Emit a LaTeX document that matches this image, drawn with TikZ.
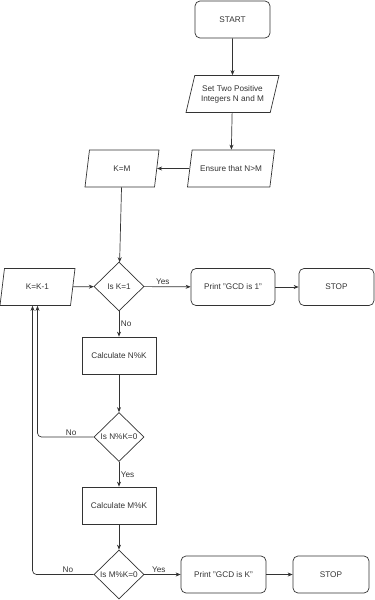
\documentclass[tikz,border=0pt]{standalone}
\usepackage{fontspec}
\setmainfont{Liberation Sans}
\usetikzlibrary{shapes.geometric,arrows.meta}

\begin{document}
\begin{tikzpicture}[x=1pt,y=-1pt,
  every node/.style={font=\fontsize{8.2}{9.8}\selectfont, text=black!80},
  term/.style={draw=black!80, line width=0.7pt, rectangle, rounded corners=5pt, minimum width=75pt, minimum height=37pt},
  proc/.style={draw=black!80, line width=0.7pt, rectangle, minimum width=74pt, minimum height=37pt},
  io/.style={draw=black!80, line width=0.7pt, trapezium, trapezium left angle=70, trapezium right angle=110,
    trapezium stretches body, minimum height=37pt, align=center, inner xsep=2pt},
  test/.style={draw=black!80, line width=0.7pt, diamond, minimum width=50pt, minimum height=49pt, inner sep=0pt},
  flow/.style={draw=black!80, line width=0.7pt, -{Stealth[length=5pt,width=4pt]}},
  lbl/.style={inner sep=1.5pt}]
  \useasboundingbox (0,0) rectangle (375,600);
  % main column
  \node[term] (start) at (232.5,19.5) {START};
  \node[io, minimum width=93pt] (read) at (232.5,94) {Set Two Positive\\Integers N and M};
  \node[io, minimum width=87pt] (ensure) at (231,168.5) {Ensure that N>M};
  \node[io, minimum width=74pt] (kem) at (122,168.5) {K=M};
  \node[io, minimum width=75pt] (dec) at (37.5,287) {K=K-1};
  \node[test] (isone) at (119,286.5) {Is K=1};
  \node[term, minimum width=84pt] (printone) at (233,287) {Print "GCD is 1"};
  \node[term] (stopone) at (336.5,287) {STOP};
  \node[proc] (calcn) at (119,355.5) {Calculate N\%K};
  \node[test] (modn) at (119,437) {Is N\%K=0};
  \node[proc] (calcm) at (119,505.5) {Calculate M\%K};
  \node[test] (modm) at (119,574.5) {Is M\%K=0};
  \node[term, minimum width=85pt] (printk) at (223.5,574.5) {Print "GCD is K"};
  \node[term, minimum width=76pt] (stopk) at (331,574.5) {STOP};
  % connectors
  \draw[flow] (start) -- (read);
  \draw[flow] (read) -- (ensure);
  \draw[flow] (ensure) -- (kem);
  \draw[flow] (kem) -- (isone);
  \draw[flow] (dec) -- (isone);
  \draw[flow] (isone) -- node[lbl, above, pos=0.4] {Yes} (printone);
  \draw[flow] (printone) -- (stopone);
  \draw[flow] (isone) -- node[lbl, right] {No} (calcn);
  \draw[flow] (calcn) -- (modn);
  \draw[flow, rounded corners=4pt] (modn.west) -| node[lbl, above, pos=0.2] {No} (dec.south);
  \draw[flow] (modn) -- node[lbl, right] {Yes} (calcm);
  \draw[flow] (calcm) -- (modm);
  \draw[flow, rounded corners=4pt] (modm.west) -| node[lbl, above, pos=0.21] {No} ([xshift=-5pt]dec.south);
  \draw[flow] (modm) -- node[lbl, above, pos=0.4] {Yes} (printk);
  \draw[flow] (printk) -- (stopk);
\end{tikzpicture}
\end{document}
